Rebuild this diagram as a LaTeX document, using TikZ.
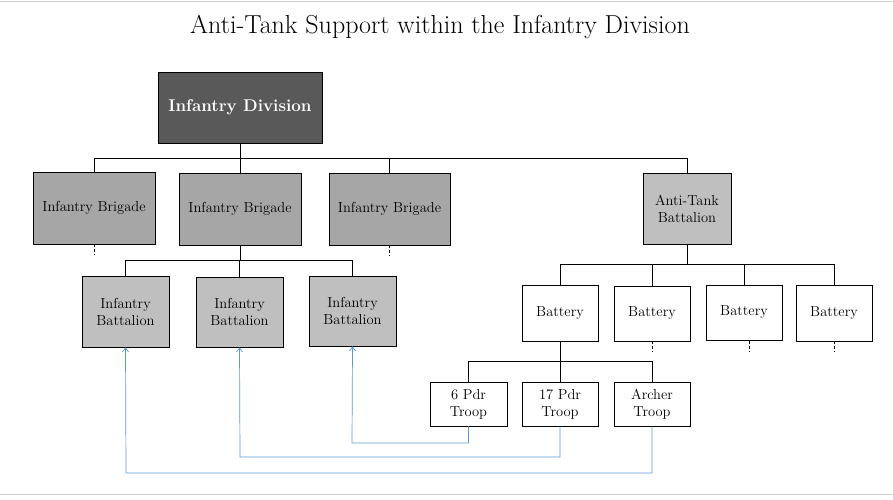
\documentclass[tikz,border=0pt]{standalone}
\usetikzlibrary{arrows.meta}
\definecolor{divc}{HTML}{595959}
\definecolor{brig}{HTML}{A6A6A6}
\definecolor{batt}{HTML}{BFBFBF}
\definecolor{link}{HTML}{5B9BD5}
\begin{document}
\begin{tikzpicture}[x=1pt,y=-1pt,
  box/.style={draw=black,line width=0.7pt,minimum width=#1,align=center,font=\fontsize{14.5}{17}\selectfont,inner sep=0pt},
  tree/.style={line width=0.6pt},
  stub/.style={line width=0.6pt,dash pattern=on 3pt off 2pt},
  lnk/.style={draw=link,line width=0.7pt,-{Straight Barb[length=4pt,width=6pt]}}]
\useasboundingbox (0,0) rectangle (893,499);
\draw[gray!40] (0,1) -- (893,1) (0,494) -- (893,494);
\node[font=\fontsize{26}{30}\selectfont] (title) at (440,27) {Anti-Tank Support within the Infantry Division};
\node[box=164pt,minimum height=71pt,fill=divc,text=white,font=\fontsize{17}{20}\selectfont\bfseries] (div) at (240,107.5) {Infantry Division};
\node[box=122pt,minimum height=72pt,fill=brig] (b1) at (94,208) {Infantry Brigade};
\node[box=122pt,minimum height=72pt,fill=brig] (b2) at (240,209) {Infantry Brigade};
\node[box=121pt,minimum height=72pt,fill=brig] (b3) at (389.5,209) {Infantry Brigade};
\node[box=88pt,minimum height=71pt,fill=batt] (at) at (687,208.5) {Anti-Tank\\Battalion};
\node[box=87pt,minimum height=71pt,fill=batt] (i1) at (125.5,311.5) {Infantry\\Battalion};
\node[box=87pt,minimum height=70pt,fill=batt] (i2) at (239.5,312) {Infantry\\Battalion};
\node[box=87pt,minimum height=70pt,fill=batt] (i3) at (352.5,311) {Infantry\\Battalion};
\node[box=76pt,minimum height=56pt] (y1) at (560,313) {Battery};
\node[box=76pt,minimum height=55pt] (y2) at (652,313.5) {Battery};
\node[box=76pt,minimum height=55pt] (y3) at (744,312.5) {Battery};
\node[box=76pt,minimum height=56pt] (y4) at (834,313) {Battery};
\node[box=77pt,minimum height=44pt] (t1) at (468.5,404) {6 Pdr\\Troop};
\node[box=76pt,minimum height=44pt] (t2) at (560,404) {17 Pdr\\Troop};
\node[box=76pt,minimum height=44pt] (t3) at (652,404) {Archer\\Troop};
% tree
\draw[tree] (div.south) -- (240,158);
\draw[tree] (b1.north) |- (at.north |- 0,158) -- (at.north);
\draw[tree] (b2.north) -- (240,158) (b3.north) -- (389.5,158);
\draw[tree] (b2.south) -- (240,260);
\draw[tree] (i1.north) |- (i3.north |- 0,260) -- (i3.north);
\draw[tree] (i2.north) -- (239.5,260);
\draw[tree] (at.south) -- (687,264);
\draw[tree] (y1.north) |- (y4.north |- 0,264) -- (y4.north);
\draw[tree] (y2.north) -- (652,264) (y3.north) -- (744,264);
\draw[tree] (y1.south) -- (560,361);
\draw[tree] (t1.north) |- (t3.north |- 0,361) -- (t3.north);
\draw[tree] (t2.north) -- (560,361);
% stubs
\draw[stub] (b1.south) -- ++(0,11);
\draw[stub] (b3.south) -- ++(0,11);
\draw[stub] (y2.south) -- ++(0,11);
\draw[stub] (749,341) -- ++(0,11);
\draw[stub] (y4.south) -- ++(0,11);
% links
\draw[lnk] (t1.south) |- (352,443) -- (i3.south);
\draw[lnk] (t2.south) |- (240,457) -- (i2.south);
\draw[lnk] (t3.south) |- (126,473) -- (i1.south);
\end{tikzpicture}
\end{document}
